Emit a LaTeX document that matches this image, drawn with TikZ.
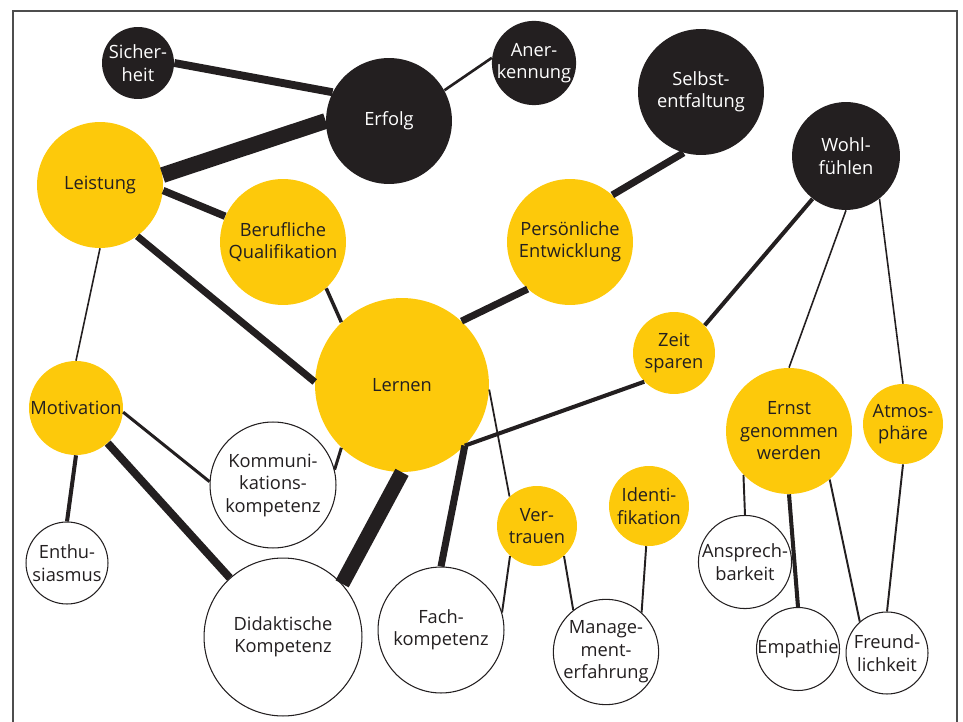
\documentclass[tikz,border=0pt]{standalone}
\usepackage{fontspec}
\setmainfont{Open Sans}
\usepackage{tikz}
\definecolor{ink}{HTML}{231F20}
\definecolor{gold}{HTML}{FDC90B}
\definecolor{rim}{HTML}{4D4D4D}

\begin{document}
\begin{tikzpicture}[x=0.02cm, y=-0.02cm,
    bubble/.style={circle, inner sep=0pt, align=center, font=\fontsize{10.4}{12.8}\selectfont},
    dark/.style={bubble, fill=ink, text=white},
    gold/.style={bubble, fill=gold, text=ink},
    plain/.style={bubble, draw=ink, line width=0.6pt, fill=white, text=ink},
    rad/.style={minimum size=#1*0.04cm}]
    \useasboundingbox (0,0) rectangle (963,722);
    \draw[rim, line width=1.1pt] (13,740) -- (13,11) -- (957,11) -- (957,740);
    % black circles
    \node[dark, rad=36] (Sicher) at (138,63) {Sicher-\\heit};
    \node[dark, rad=63] (Erfolg) at (389,121) {Erfolg};
    \node[dark, rad=40] (Aner) at (534,63) {Aner-\\kennung};
    \node[dark, rad=63] (Selbst) at (701,92) {Selbst-\\entfaltung};
    \node[dark, rad=54] (Wohl) at (846,156) {Wohl-\\fühlen};
    % yellow circles
    \node[gold, rad=63] (Leistung) at (100,185) {Leistung};
    \node[gold, rad=63] (Beruf) at (283,242) {Berufliche\\Qualifikation};
    \node[gold, rad=63] (Pers) at (570,242) {Persönliche\\Entwicklung};
    \node[gold, rad=41] (Zeit) at (674,353) {Zeit\\sparen};
    \node[gold, rad=87] (Lernen) at (402,385) {Lernen};
    \node[gold, rad=47] (Motiv) at (76,408) {Motivation};
    \node[gold, rad=63] (Ernst) at (789,431) {Ernst\\genommen\\werden};
    \node[gold, rad=40] (Atmo) at (903,424) {Atmos-\\phäre};
    \node[gold, rad=40] (Vertrauen) at (537,526) {Ver-\\trauen};
    \node[gold, rad=40] (Ident) at (649,506) {Identi-\\fikation};
    % white circles
    \node[plain, rad=63] (Komm) at (273,485) {Kommuni-\\kations-\\kompetenz};
    \node[plain, rad=41] (Enthu) at (67,563) {Enthu-\\siasmus};
    \node[plain, rad=79] (Didak) at (283,637) {Didaktische\\Kompetenz};
    \node[plain, rad=63] (Fach) at (441,630) {Fach-\\kompetenz};
    \node[plain, rad=47] (Mgmt) at (606,652) {Manage-\\ment-\\erfahrung};
    \node[plain, rad=45] (Ansprech) at (745,562) {Ansprech-\\barkeit};
    \node[plain, rad=41] (Empathie) at (798,649) {Empathie};
    \node[plain, rad=41] (Freund) at (887,653) {Freund-\\lichkeit};
    \coordinate (j) at (Lernen.-44);
    % connections
    \draw[ink, line width=4.5pt] (Sicher.east) -- (Erfolg.153);
    \draw[ink, line width=1.5pt] (Erfolg.29) -- (Aner.173);
    \draw[ink, line width=9pt] (Leistung.9) -- (Erfolg.180);
    \draw[ink, line width=4.2pt] (Leistung.-5) -- (Beruf.156);
    \draw[ink, line width=4pt] (Leistung.-54) -- (Lernen.178);
    \draw[ink, line width=0.9pt] (Leistung.south) -- (Motiv.north);
    \draw[ink, line width=2pt] (Beruf.-47) -- (Lernen.134);
    \draw[ink, line width=4pt] (Selbst.254) -- (Pers.48);
    \draw[ink, line width=4pt] (Pers.228) -- (Lernen.47);
    \draw[ink, line width=2.3pt] (Wohl.232) -- (Zeit.42);
    \draw[ink, line width=2.3pt] (Zeit.224) -- (j);
    \draw[ink, line width=4pt] (Fach.north) -- (j);
    \draw[ink, line width=1.7pt] (Komm.14) -- (Lernen.226);
    \draw[ink, line width=8.5pt] (Didak.42) -- (Lernen.south);
    \draw[ink, line width=1pt] (Vertrauen.133) -- (Lernen.-3);
    \draw[ink, line width=1.7pt] (Motiv.-5) -- (Komm.177);
    \draw[ink, line width=4.5pt] (Motiv.-48) -- (Didak.132);
    \draw[ink, line width=2.3pt] (Motiv.south) -- (Enthu.north);
    \draw[ink, line width=1.1pt] (Vertrauen.228) -- (Fach.16);
    \draw[ink, line width=1.1pt] (Vertrauen.-48) -- (Mgmt.128);
    \draw[ink, line width=1.1pt] (Ident.-94) -- (Mgmt.48);
    \draw[ink, line width=0.9pt] (Wohl.south) -- (Ernst.north);
    \draw[ink, line width=0.9pt] (Wohl.-52) -- (Atmo.north);
    \draw[ink, line width=1.1pt] (Ernst.224) -- (Ansprech.north);
    \draw[ink, line width=2.3pt] (Ernst.south) -- (Empathie.north);
    \draw[ink, line width=1.1pt] (Ernst.-50) -- (Freund.131);
    \draw[ink, line width=1.1pt] (Atmo.south) -- (Freund.north);
\end{tikzpicture}
\end{document}
